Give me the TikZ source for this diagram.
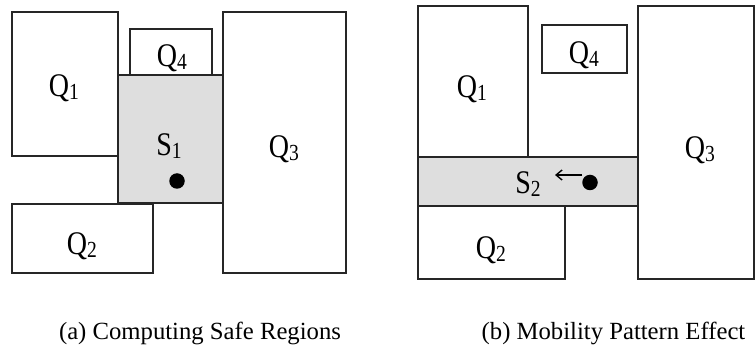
\documentclass[tikz,border=0pt]{standalone}
\usepackage{fontspec}
\setmainfont{Liberation Serif}
\usetikzlibrary{arrows.meta}
\newcommand{\lab}[2]{\scalebox{0.85}[1]{\fontsize{33}{36}\selectfont #1\raisebox{-3pt}{\fontsize{23}{26}\selectfont #2}}}
\begin{document}
\begin{tikzpicture}[x=1pt,y=-1pt,
  box/.style={draw=black!85,line width=1.2pt},
  safe/.style={box,fill=black!13},
  lbl/.style={inner sep=0pt,anchor=base},
  captext/.style={font=\fontsize{24.7}{28}\selectfont,inner sep=0pt},
  dotm/.style={circle,fill=black,inner sep=0pt,minimum size=15.5pt}]
\useasboundingbox (0,0) rectangle (755,347);
% (a)
\draw[safe] (118,75) rectangle (223,203);
\draw[box] (12,12) rectangle (118,156);
\draw[box] (130,29) rectangle (212,75);
\draw[box] (223,12) rectangle (346,273);
\draw[box] (12,204) rectangle (153,273);
\node[lbl] (aq1) at (64,97) {\lab{Q}{1}};
\node[lbl] (aq4) at (172,67) {\lab{Q}{4}};
\node[lbl] (as1) at (169,155.5) {\lab{S}{1}};
\node[lbl] (aq3) at (284,157.5) {\lab{Q}{3}};
\node[lbl] (aq2) at (82,255) {\lab{Q}{2}};
\node[dotm] (adot) at (177,181) {};
% (b)
\draw[safe] (418,157) rectangle (638,206);
\draw[box] (418,6) rectangle (528,157);
\draw[box] (542,25) rectangle (627,73);
\draw[box] (638,6) rectangle (754,279);
\draw[box] (418,206) rectangle (565,279);
\node[lbl] (bq1) at (472,98) {\lab{Q}{1}};
\node[lbl] (bq4) at (584,64) {\lab{Q}{4}};
\node[lbl] (bs2) at (528,194) {\lab{S}{2}};
\node[lbl] (bq3) at (700,159) {\lab{Q}{3}};
\node[lbl] (bq2) at (491,259) {\lab{Q}{2}};
\node[dotm] (bdot) at (590,182.5) {};
\coordinate (barr) at (555,175);
\draw[-{Straight Barb[length=6pt,width=10pt]},line width=1.4pt] (582,175) -- (barr);
% captions
\node[captext] (capa) at (200,333) {(a) Computing Safe Regions};
\node[captext] (capb) at (613.5,333) {(b) Mobility Pattern Effect};
\end{tikzpicture}
\end{document}
